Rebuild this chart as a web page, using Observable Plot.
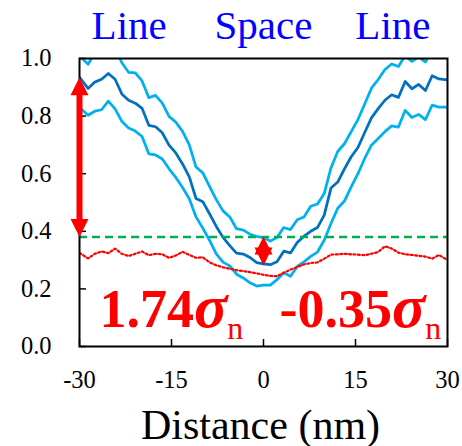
<!DOCTYPE html>
<html><head><meta charset="utf-8">
<script src="https://cdn.jsdelivr.net/npm/d3@7"></script>
<script src="https://cdn.jsdelivr.net/npm/@observablehq/plot@0.6"></script>
<style>
html,body{margin:0;padding:0;background:#fff}
svg{display:block}
#chart svg text, #chart svg tspan{font-family:'Liberation Serif','Times New Roman',Times,'DejaVu Serif',serif !important}
</style>
</head><body><div id="chart"></div>
<script>
const distance = [-30,-28.6,-27.5,-26.4,-25.3,-24.2,-23.1,-22,-20.9,-19.8,-18.7,-17.6,-16.5,-15.4,-14.3,-13.2,-12.1,-11,-9.9,-8.8,-7.7,-6.6,-5.5,-4.4,-3.3,-2.2,-1.1,0,1.1,2.2,3.3,4.4,5.5,6.6,7.7,8.8,9.9,11,12.1,13.2,14.3,15.4,16.5,17.6,18.7,19.8,20.9,22,23.1,24.2,25.3,26.4,27.5,28.6,30];
const upperProfile = [1.01,0.98,1.02,1.03,1.05,1.04,0.985,0.952,0.950,0.922,0.864,0.872,0.845,0.799,0.779,0.747,0.700,0.623,0.603,0.556,0.510,0.471,0.450,0.409,0.404,0.390,0.382,0.378,0.366,0.378,0.413,0.406,0.440,0.450,0.487,0.495,0.531,0.620,0.677,0.704,0.746,0.788,0.842,0.897,0.927,0.962,0.981,0.972,1.01,0.99,1.005,0.988,1.03,1.02,1.02];
const meanProfile = [0.935,0.896,0.918,0.928,0.948,0.928,0.877,0.855,0.845,0.827,0.768,0.763,0.742,0.699,0.672,0.634,0.589,0.514,0.503,0.461,0.417,0.379,0.350,0.324,0.321,0.309,0.291,0.287,0.284,0.294,0.331,0.325,0.361,0.383,0.400,0.413,0.456,0.550,0.571,0.617,0.659,0.691,0.743,0.794,0.826,0.855,0.874,0.865,0.92,0.895,0.91,0.889,0.94,0.929,0.926];
const lowerProfile = [0.830,0.803,0.817,0.822,0.852,0.825,0.782,0.759,0.748,0.729,0.669,0.665,0.651,0.617,0.587,0.552,0.513,0.450,0.411,0.369,0.322,0.293,0.280,0.251,0.238,0.221,0.210,0.213,0.213,0.232,0.256,0.244,0.278,0.294,0.313,0.328,0.369,0.427,0.480,0.505,0.554,0.600,0.653,0.699,0.722,0.746,0.766,0.762,0.820,0.795,0.806,0.788,0.838,0.831,0.831];
const referenceProfile = [0.325,0.306,0.322,0.330,0.324,0.340,0.322,0.314,0.322,0.330,0.317,0.322,0.320,0.308,0.316,0.329,0.318,0.308,0.310,0.292,0.282,0.275,0.270,0.265,0.262,0.258,0.254,0.249,0.245,0.244,0.256,0.267,0.276,0.285,0.290,0.292,0.305,0.319,0.320,0.322,0.320,0.319,0.317,0.322,0.328,0.348,0.340,0.326,0.320,0.318,0.315,0.312,0.305,0.318,0.300];
const thresholdLevel = [0.38];
const xTicks = [-30, -15, 0, 15, 30];
const yTicks = [0, 0.2, 0.4, 0.6, 0.8, 1.0];
const regionLabels = ["Line", "Space", "Line"];
const regionCenters = [-21.9, 0, 21.1];
const contrastLabels = ["1.74", "-0.35"];
const contrastX = [-26.75, 2.6];
const contrastY = [0.066, 0.066];
const arrowX = [-30, 0];
const arrowLow = [0.38, 0.281];
const arrowHigh = [0.935, 0.382];
const axisTitle = ["Distance (nm)"];

const rows = distance.map((d, i) => ({
  distance: d, upper: upperProfile[i], mean: meanProfile[i],
  lower: lowerProfile[i], ref: referenceProfile[i]
}));
const arrows = arrowX.map((x, i) => ({x, lo: arrowLow[i], hi: arrowHigh[i]}));
const contrasts = contrastLabels.map((t, i) => ({t, x: contrastX[i], y: contrastY[i]}));
const regions = regionLabels.map((t, i) => ({t, x: regionCenters[i]}));

const W = 462, H = 446, mL = 79, mR = 15, mT = 58, mB = 100;
const plotW = W - mL - mR, plotH = H - mT - mB;
const serif = "'Liberation Serif', 'Times New Roman', Times, 'DejaVu Serif', serif";
const upHead = {draw(ctx) { ctx.moveTo(0, 0); ctx.lineTo(9, 18); ctx.lineTo(-9, 18); ctx.closePath(); }};
const downHead = {draw(ctx) { ctx.moveTo(0, 0); ctx.lineTo(9, -18); ctx.lineTo(-9, -18); ctx.closePath(); }};

const svg = Plot.plot({
  width: W, height: H,
  marginLeft: mL, marginRight: mR, marginTop: mT, marginBottom: mB,
  style: {fontFamily: serif, background: "white", color: "black", overflow: "visible"},
  x: {domain: [-30, 30], ticks: xTicks, tickSize: 0, tickPadding: 24, tickFormat: d => String(d), label: null},
  y: {domain: [0, 1], ticks: yTicks, tickSize: 0, tickPadding: 28, tickFormat: d3.format(".1f"), label: null},
  marks: [
    Plot.tickY(yTicks, {y: d => d, insetRight: plotW - 7, stroke: "black", strokeWidth: 1.5}),
    Plot.tickX(xTicks, {x: d => d, insetTop: plotH - 7, stroke: "black", strokeWidth: 1.5}),
    Plot.lineY(rows, {x: "distance", y: "upper", stroke: "#00B0F0", strokeWidth: 2.75, clip: true}),
    Plot.lineY(rows, {x: "distance", y: "lower", stroke: "#00B0F0", strokeWidth: 2.75, clip: true}),
    Plot.lineY(rows, {x: "distance", y: "mean", stroke: "#0070C0", strokeWidth: 2.75, clip: true}),
    Plot.lineY(rows, {x: "distance", y: "ref", stroke: "#FF0000", strokeWidth: 2.2, strokeDasharray: "2 2.4", clip: true}),
    Plot.ruleY(thresholdLevel, {y: d => d, stroke: "#00B050", strokeWidth: 2.5, strokeDasharray: "8 5"}),
    Plot.frame({stroke: "black", strokeWidth: 2}),
    Plot.ruleX(arrows, {x: "x", y1: "hi", y2: "lo", insetTop: 10, insetBottom: 10, stroke: "#FF0000", strokeWidth: 6}),
    Plot.dot(arrows, {x: "x", y: "hi", symbol: upHead, r: 5, fill: "#FF0000", stroke: "none"}),
    Plot.dot(arrows, {x: "x", y: "lo", symbol: downHead, r: 5, fill: "#FF0000", stroke: "none"}),
    Plot.text(regions, {x: "x", text: "t", frameAnchor: "top", lineAnchor: "bottom", dy: -20, fontSize: 41, fill: "#0000FF"}),
    Plot.text(axisTitle, {text: d => d, frameAnchor: "bottom", lineAnchor: "bottom", dy: 92, dx: -3, fontSize: 42, fill: "black"}),
    Plot.text(contrasts, {x: "x", y: "y", text: d => d.t + "σn", textAnchor: "start", lineAnchor: "bottom", fontSize: 54, fontWeight: "bold", fill: "#FF0000"})
  ]
});

const root = d3.select(svg);
root.selectAll("text").filter(function () { return this.textContent.endsWith("σn"); }).each(function () {
  const t = this.textContent;
  const num = t.slice(0, -2);
  const sel = d3.select(this);
  sel.text(null);
  sel.append("tspan").text(num);
  sel.append("tspan").attr("font-style", "italic").attr("font-size", 62).text("σ");
  sel.append("tspan").attr("font-weight", "normal").attr("font-size", 32).attr("dy", 12).text("n");
});
root.selectAll("g[aria-label*='axis'] text").style("font-size", "24.5px");
root.selectAll("g[aria-label*='axis']").attr("font-size", 24.5).attr("font-family", null);

document.getElementById("chart").appendChild(svg);
</script>
</body></html>
